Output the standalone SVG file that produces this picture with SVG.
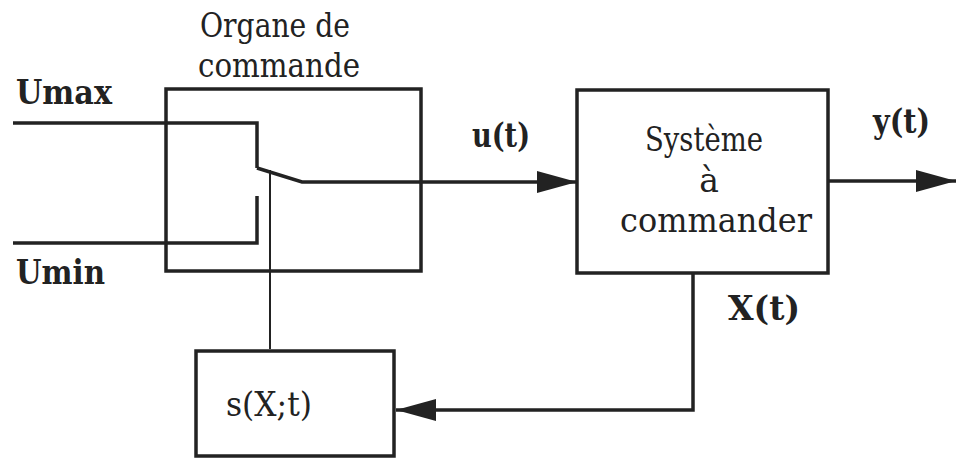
<svg xmlns="http://www.w3.org/2000/svg" width="958" height="459" viewBox="0 0 958 459">
<style>
.box{fill:none;stroke:#222;stroke-width:3.5}
.ln{fill:none;stroke:#222;stroke-width:3.5}
.t{font-family:"DejaVu Serif","Liberation Serif",serif;font-size:33px;fill:#222}
.b{font-weight:bold}
</style>
<defs>
<marker id="ahb" markerWidth="40" markerHeight="22" refX="40" refY="11" orient="auto" markerUnits="userSpaceOnUse" viewBox="0 0 40 22">
<path d="M0,0 L40,11 L0,22 z" fill="#222"/>
</marker>
</defs>
<rect width="958" height="459" fill="#fff"/>
<g id="organe">
<rect class="box" x="166" y="89" width="255" height="182"/>
<text class="t" x="200" y="37" textLength="150" lengthAdjust="spacingAndGlyphs">Organe de</text>
<text class="t" x="198" y="77" textLength="162" lengthAdjust="spacingAndGlyphs">commande</text>
</g>
<g id="systeme">
<rect class="box" x="577" y="90" width="251" height="183"/>
<text class="t" x="645" y="151" textLength="118" lengthAdjust="spacingAndGlyphs">Système</text>
<text class="t" x="709" y="192" text-anchor="middle">à</text>
<text class="t" x="620" y="232" textLength="192" lengthAdjust="spacingAndGlyphs">commander</text>
</g>
<g id="sxt">
<rect class="box" x="196" y="351" width="198" height="105"/>
<text class="t" x="226" y="416" textLength="86" lengthAdjust="spacingAndGlyphs">s(X;t)</text>
</g>
<g id="connectors">
<polyline class="ln" points="13,123 257,123 257,168"/>
<polyline class="ln" points="13,243 257,243 257,196"/>
<polyline class="ln" points="257,168 302,182 577,182" marker-end="url(#ahb)"/>
<line x1="270" y1="170" x2="270" y2="349" stroke="#222" stroke-width="2"/>
<line class="ln" x1="828" y1="181" x2="956" y2="181" marker-end="url(#ahb)"/>
<polyline class="ln" points="693,273 693,410 396,410" marker-end="url(#ahb)"/>
</g>
<g id="labels">
<text class="t b" x="16" y="104" textLength="96" lengthAdjust="spacingAndGlyphs">Umax</text>
<text class="t b" x="16" y="284" textLength="89" lengthAdjust="spacingAndGlyphs">Umin</text>
<text class="t b" x="472" y="147" textLength="58" lengthAdjust="spacingAndGlyphs">u(t)</text>
<text class="t b" x="873" y="133" textLength="57" lengthAdjust="spacingAndGlyphs">y(t)</text>
<text class="t b" x="728" y="320" textLength="72" lengthAdjust="spacingAndGlyphs">X(t)</text>
</g>
</svg>
